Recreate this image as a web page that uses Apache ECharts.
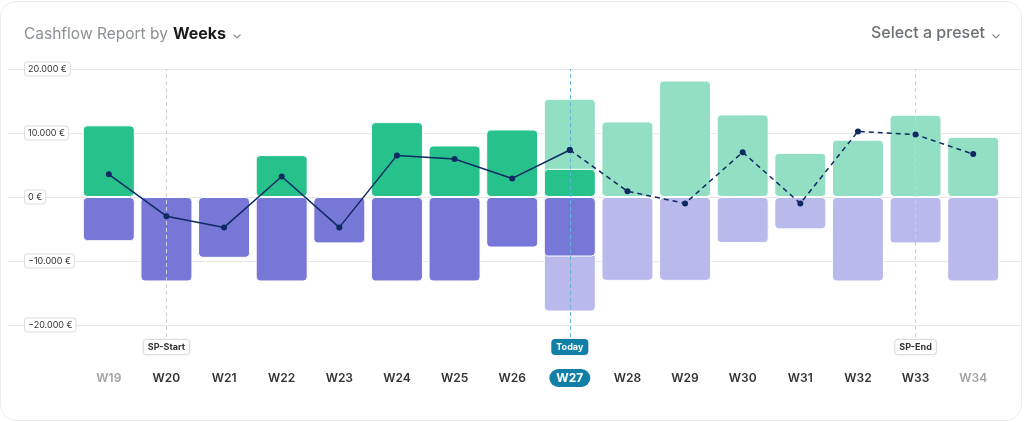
<!DOCTYPE html>
<html>
<head>
<meta charset="utf-8">
<script src="https://cdn.jsdelivr.net/npm/echarts@6/dist/echarts.min.js"></script>
<style>
  html, body { margin: 0; padding: 0; background: #fff; }
  #card { position: absolute; left: 0; top: 1px; width: 1020px; height: 418px; border: 1px solid #ececec; border-radius: 16px; background: #fff; }
  #eChartCash { position: absolute; left: 0; top: 0; width: 1024px; height: 422px; }
</style>
</head>
<body>
<div id="card"></div>
<div id="eChartCash"></div>
<script>
var weeks = ['W19', 'W20', 'W21', 'W22', 'W23', 'W24', 'W25', 'W26', 'W27', 'W28', 'W29', 'W30', 'W31', 'W32', 'W33', 'W34'];
var incomeActual = [11200, null, null, 6550, null, 11700, 8050, 10550, 4400, null, null, null, null, null, null, null];
var expenseActual = [-6900, -13200, -9500, -13200, -7250, -13200, -13200, -7900, -9300, null, null, null, null, null, null, null];
var incomePlanned = [null, null, null, null, null, null, null, null, 15350, 11800, 18200, 12900, 6900, 8950, 12850, 9400];
var expensePlanned = [null, null, null, null, null, null, null, null, -17900, -13100, -13100, -7200, -5050, -13200, -7250, -13200];
var balanceActual = [3550, -3000, -4750, 3200, -4750, 6500, 5950, 2900, 7350, null, null, null, null, null, null, null];
var balanceForecast = [null, null, null, null, null, null, null, null, 7350, 900, -1000, 7000, -1000, 10250, 9750, 6700];
var yTickLabels = ['−20.000 €', '−10.000 €', '0 €', '10.000 €', '20.000 €'];
var markers = [
    { week: 'W20', label: 'SP-Start', kind: 'sp' },
    { week: 'W27', label: 'Today', kind: 'today' },
    { week: 'W33', label: 'SP-End', kind: 'sp' }
];
var todayWeek = 'W27';
var mutedWeeks = ['W19', 'W34'];

var myChart = echarts.init(document.getElementById('eChartCash'));

var barStyle = function (color) {
    return { color: color, borderRadius: 4, borderColor: '#fff', borderWidth: 1 };
};

var markLineData = markers.map(function (m) {
    var today = m.kind === 'today';
    return {
        xAxis: m.week,
        lineStyle: { color: today ? '#5db6d6' : '#d0d0d0', type: [4, 3], width: 1 },
        label: {
            show: true,
            position: 'start',
            distance: 3,
            formatter: m.label,
            fontSize: 9,
            fontWeight: 'bold',
            fontFamily: 'Inter',
            color: today ? '#fff' : '#333',
            backgroundColor: today ? '#1280a6' : '#fff',
            borderColor: today ? '#1280a6' : '#e2e2e2',
            borderWidth: 1,
            borderRadius: 3,
            padding: [3, 4, 2, 4],
            shadowColor: 'rgba(0,0,0,0.08)',
            shadowBlur: 3
        }
    };
});

option = {
    backgroundColor: 'transparent',
    textStyle: { fontFamily: 'Inter' },
    title: {
        text: '{a|Cashflow Report by} {b|Weeks}',
        left: 19,
        top: 20,
        textStyle: {
            fontWeight: 'normal',
            rich: {
                a: { fontSize: 15.5, color: '#8c9095', fontWeight: 'normal', fontFamily: 'Inter' },
                b: { fontSize: 16, color: '#1b1b1b', fontWeight: 'bold', fontFamily: 'Inter' }
            }
        }
    },
    graphic: [
        {
            type: 'text',
            right: 39,
            top: 25,
            style: { text: 'Select a preset', fontSize: 16, fontWeight: 500, fill: '#6c7176', fontFamily: 'Inter' }
        },
        {
            type: 'polyline',
            left: 231,
            top: 32,
            shape: { points: [[0, 0], [3.5, 3.5], [7, 0]] },
            style: { stroke: '#8c9095', lineWidth: 1.2, fill: null }
        },
        {
            type: 'polyline',
            left: 990,
            top: 32,
            shape: { points: [[0, 0], [3.5, 3.5], [7, 0]] },
            style: { stroke: '#8c9095', lineWidth: 1.2, fill: null }
        }
    ],
    grid: [
        { left: 8, right: 2, top: 69, bottom: 97 },
        { left: 80, right: 22, top: 69, bottom: 85 }
    ],
    xAxis: [
        { type: 'value', gridIndex: 0, show: false, min: 0, max: 1 },
        {
            type: 'category',
            gridIndex: 1,
            data: weeks,
            axisLine: { show: false },
            axisTick: { show: false },
            axisLabel: {
                interval: 0,
                margin: 34,
                formatter: function (v) {
                    if (v === todayWeek) return '{t|' + v + '}';
                    if (mutedWeeks.indexOf(v) >= 0) return '{m|' + v + '}';
                    return '{n|' + v + '}';
                },
                rich: {
                    n: { fontSize: 12, fontWeight: 600, color: '#333', padding: [3, 7], lineHeight: 14, fontFamily: 'Inter' },
                    m: { fontSize: 12, fontWeight: 600, color: '#a3a3a3', padding: [3, 7], lineHeight: 14, fontFamily: 'Inter' },
                    t: { fontSize: 12, fontWeight: 'bold', color: '#fff', backgroundColor: '#1280a6', borderRadius: 10, padding: [3, 7], lineHeight: 14, fontFamily: 'Inter' }
                }
            }
        }
    ],
    yAxis: [
        {
            type: 'value',
            gridIndex: 0,
            min: -20000,
            max: 20000,
            interval: 10000,
            axisLine: { show: false },
            axisTick: { show: false },
            splitLine: { lineStyle: { color: '#e6e6e6' } },
            axisLabel: {
                inside: true,
                margin: 17,
                fontSize: 9,
                color: '#333',
                fontFamily: 'Inter',
                backgroundColor: '#fff',
                borderColor: '#dedede',
                borderWidth: 1,
                borderRadius: 3,
                padding: [2, 3],
                formatter: function (v) {
                    return yTickLabels[Math.round((v + 20000) / 10000)];
                }
            }
        },
        {
            type: 'value',
            gridIndex: 1,
            min: -21875,
            max: 20000,
            show: false,
            splitLine: { show: false }
        }
    ],
    series: [
        {
            name: 'Planned income', type: 'bar', xAxisIndex: 1, yAxisIndex: 1,
            barWidth: 52, barGap: '-100%', data: incomePlanned, itemStyle: barStyle('#93dfc4'), z: 2
        },
        {
            name: 'Planned expenses', type: 'bar', xAxisIndex: 1, yAxisIndex: 1,
            barWidth: 52, barGap: '-100%', data: expensePlanned, itemStyle: barStyle('#b9b9eb'), z: 2
        },
        {
            name: 'Income', type: 'bar', xAxisIndex: 1, yAxisIndex: 1,
            barWidth: 52, barGap: '-100%', data: incomeActual, itemStyle: barStyle('#27c28b'), z: 3
        },
        {
            name: 'Expenses', type: 'bar', xAxisIndex: 1, yAxisIndex: 1,
            barWidth: 52, barGap: '-100%', data: expenseActual, itemStyle: barStyle('#7777d8'), z: 3
        },
        {
            name: 'Balance', type: 'line', xAxisIndex: 1, yAxisIndex: 1,
            data: balanceActual, symbol: 'circle', symbolSize: 6,
            lineStyle: { color: '#0e2a63', width: 1.5 },
            itemStyle: { color: '#0e2a63' }, z: 6
        },
        {
            name: 'Forecast', type: 'line', xAxisIndex: 1, yAxisIndex: 1,
            data: balanceForecast, symbol: 'circle', symbolSize: 6,
            lineStyle: { color: '#0e2a63', width: 1.5, type: [5, 4] },
            itemStyle: { color: '#0e2a63' }, z: 6,
            markLine: { silent: true, symbol: 'none', data: markLineData, z: 5 }
        }
    ]
};

myChart.setOption(option);
</script>
</body>
</html>
